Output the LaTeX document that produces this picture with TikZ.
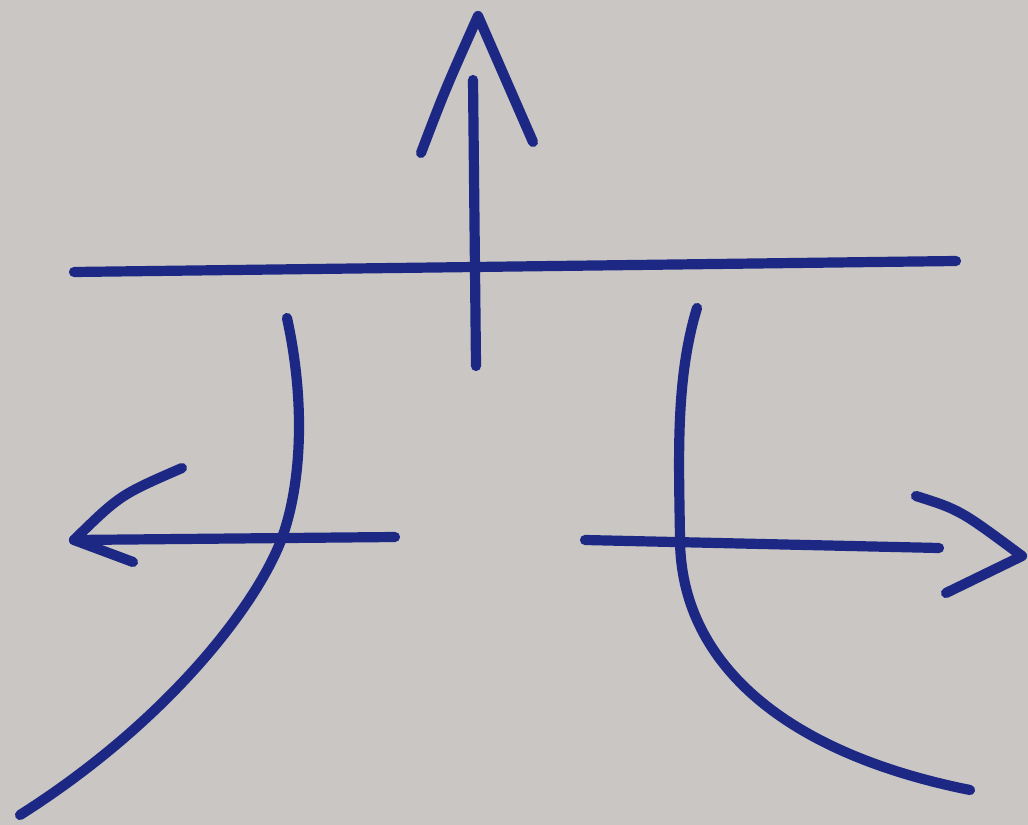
\documentclass[tikz,border=0pt]{standalone}
\usepackage{tikz}

\definecolor{paper}{RGB}{201,198,196}
\definecolor{marker}{RGB}{28,40,132}

\tikzset{
  pen/.style={marker,line width=2.9pt,line cap=round,line join=round},
}

\begin{document}
\begin{tikzpicture}[x=0.01cm,y=-0.01cm]
  % paper
  \fill[paper] (0,0) rectangle (1028,825);
  \useasboundingbox (0,0) rectangle (1028,825);
  % named points of the strokes
  \coordinate (barL) at (74,272);
  \coordinate (barR) at (956,261);
  \coordinate (upFoot) at (476,366);
  \coordinate (upTop) at (473,80);
  \coordinate (upTip) at (478,16);
  \coordinate (leftFoot) at (395,537);
  \coordinate (leftTip) at (74,540);
  \coordinate (rightFoot) at (585,540);
  \coordinate (rightEnd) at (939,548);
  \coordinate (rightTip) at (1022,556);
  \coordinate (lcTop) at (287,318);
  \coordinate (lcMid) at (283,535);
  \coordinate (lcEnd) at (20,815);
  \coordinate (rcTop) at (697,308);
  \coordinate (rcMid) at (680,540);
  \coordinate (rcEnd) at (970,790);
  % horizontal bar
  \draw[pen] (barL) -- (barR);
  % up arrow
  \draw[pen] (upFoot) -- (upTop);
  \draw[pen] (421,153) .. controls (445,90) .. (upTip) -- (533,142);
  % left arrow
  \draw[pen] (leftFoot) -- (leftTip);
  \draw[pen] (182,468) .. controls (120,495) .. (leftTip) -- (133,562);
  % right arrow
  \draw[pen] (rightFoot) -- (rightEnd);
  \draw[pen] (916,496) .. controls (960,510) .. (rightTip) -- (946,593);
  % left curve
  \draw[pen] (lcTop) .. controls (305,400) and (302,480) .. (lcMid)
    .. controls (260,601) and (170,720) .. (lcEnd);
  % right curve
  \draw[pen] (rcTop) .. controls (675,380) and (679,460) .. (rcMid)
    .. controls (681,660) and (780,752) .. (rcEnd);
\end{tikzpicture}
\end{document}
